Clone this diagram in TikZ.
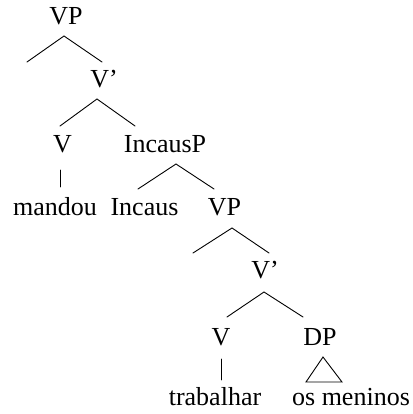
\documentclass[tikz,border=0pt]{standalone}
\usepackage{fontspec}
\setmainfont{Liberation Serif}
\begin{document}
\begin{tikzpicture}[x=1pt,y=-1pt,
  lbl/.style={anchor=base, inner sep=0pt, font=\fontsize{26}{30}\selectfont},
  branch/.style={line width=0.9pt, line cap=round}]
\useasboundingbox (0,0) rectangle (412,414);

% labels (x = centre, y = baseline)
\node[lbl] (vp1)    at (66,25)    {VP};
\node[lbl] (vb1)    at (104,88)   {V’};
\node[lbl] (v1)     at (62.5,152) {V};
\node[lbl] (ip)     at (165,152)  {IncausP};
\node[lbl] (mandou) at (55,215)   {mandou};
\node[lbl] (incaus) at (144.5,215){Incaus};
\node[lbl] (vp2)    at (224.5,215){VP};
\node[lbl] (vb2)    at (265,278)  {V’};
\node[lbl] (v2)     at (221,345)  {V};
\node[lbl] (dp)     at (320,345)  {DP};
\node[lbl] (trab)   at (215,405)  {trabalhar};
\node[lbl] (osm)    at (351,405)  {os meninos};

% branching points below each label and attachment points above each label
\coordinate (vp1-b)  at (64,36);
\coordinate (spec1)  at (27,62);
\coordinate (vb1-t)  at (102,62);
\coordinate (vb1-b)  at (97,99);
\coordinate (v1-t)   at (60,126);
\coordinate (ip-t)   at (135,126);
\coordinate (v1-b)   at (60,170);
\coordinate (mandou-t) at (60,187);
\coordinate (ip-b)   at (176,164);
\coordinate (incaus-t) at (138,189);
\coordinate (vp2-t)  at (214,189);
\coordinate (vp2-b)  at (232,228);
\coordinate (spec2)  at (193,253);
\coordinate (vb2-t)  at (269,253);
\coordinate (vb2-b)  at (264,292);
\coordinate (v2-t)   at (227,317);
\coordinate (dp-t)   at (303,317);
\coordinate (v2-b)   at (221,359);
\coordinate (trab-t) at (221,380);
\coordinate (dp-b)   at (323,357);
\coordinate (osm-l)  at (306,382);
\coordinate (osm-r)  at (342,382);

% branches
\draw[branch] (spec1) -- (vp1-b) -- (vb1-t);
\draw[branch] (v1-t) -- (vb1-b) -- (ip-t);
\draw[branch] (v1-b) -- (mandou-t);
\draw[branch] (incaus-t) -- (ip-b) -- (vp2-t);
\draw[branch] (spec2) -- (vp2-b) -- (vb2-t);
\draw[branch] (v2-t) -- (vb2-b) -- (dp-t);
\draw[branch] (v2-b) -- (trab-t);
\draw[branch, line join=miter] (dp-b) -- (osm-r) -- (osm-l) -- cycle;
\end{tikzpicture}
\end{document}
